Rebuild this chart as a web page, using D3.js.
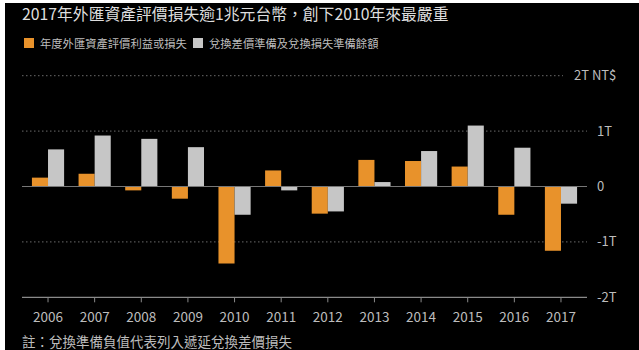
<!DOCTYPE html>
<html>
<head>
<meta charset="utf-8">
<script src="https://cdn.jsdelivr.net/npm/d3@7"></script>
<style>
  html, body { margin: 0; padding: 0; background: #fff; }
  svg { display: block; }
  text { font-family: "Noto Sans CJK TC", "Noto Sans", sans-serif; }
</style>
</head>
<body>
<div id="chart"></div>
<script>
const years = ['2006', '2007', '2008', '2009', '2010', '2011', '2012', '2013', '2014', '2015', '2016', '2017'];
// trillions of NT$
const valuation = [0.16, 0.23, -0.07, -0.22, -1.39, 0.29, -0.49, 0.48, 0.46, 0.36, -0.51, -1.16];
const reserves = [0.67, 0.92, 0.86, 0.71, -0.51, -0.07, -0.45, 0.08, 0.64, 1.10, 0.70, -0.31];
const seriesNames = ['年度外匯資產評價利益或損失', '兌換差價準備及兌換損失準備餘額'];
const yTicks = [2, 1, 0, -1, -2];
const yTickLabels = ['2T NT$', '1T', '0', '-1T', '-2T'];

const width = 639;
const height = 350;
const colors = ['#e8922b', '#c6c6c6'];

const svg = d3.select('#chart').append('svg')
  .attr('width', width)
  .attr('height', height);

// scanned-looking frame: white strip left / top, black panel
svg.append('rect').attr('width', width).attr('height', height).attr('fill', '#fff');
svg.append('rect').attr('x', 5).attr('y', 3).attr('width', width - 5).attr('height', height - 3).attr('fill', '#000');

const xScale = d3.scaleBand().domain(years).range([24.7, 584.3]).paddingInner(0.31).paddingOuter(0.155);
const xSub = d3.scaleBand().domain([0, 1]).range([0, xScale.bandwidth()]);
const yScale = d3.scaleLinear().domain([-2, 2]).range([297.3, 75.7]);

const gridLeft = 22;
const gridRight = 587;

// grid lines
const grid = svg.append('g').attr('class', 'grid');
grid.selectAll('line')
  .data(yTicks.filter(d => d !== 0 && d !== -2))
  .enter()
  .append('line')
  .attr('x1', gridLeft)
  .attr('x2', d => (d === 2 ? 563 : gridRight))
  .attr('y1', d => yScale(d))
  .attr('y2', d => yScale(d))
  .attr('stroke', '#6a6a6a')
  .attr('stroke-width', 1)
  .attr('stroke-dasharray', '1.5 2.5');

// bars
const rows = years.map((y, i) => ({ year: y, values: [valuation[i], reserves[i]] }));
const groups = svg.append('g').attr('class', 'bars')
  .selectAll('g')
  .data(rows)
  .enter()
  .append('g')
  .attr('transform', d => `translate(${xScale(d.year)},0)`);

groups.selectAll('rect')
  .data(d => d.values.map((v, k) => ({ v, k })))
  .enter()
  .append('rect')
  .attr('x', d => xSub(d.k))
  .attr('width', xSub.bandwidth())
  .attr('y', d => yScale(Math.max(0, d.v)))
  .attr('height', d => Math.abs(yScale(d.v) - yScale(0)))
  .attr('fill', d => colors[d.k]);

// zero line
svg.append('line')
  .attr('x1', gridLeft).attr('x2', gridRight)
  .attr('y1', yScale(0)).attr('y2', yScale(0))
  .attr('stroke', '#777').attr('stroke-width', 1.2);

// bottom axis
const xAxis = svg.append('g')
  .attr('transform', `translate(0,${yScale(-2)})`)
  .call(d3.axisBottom(xScale).tickSize(5).tickSizeOuter(0).tickPadding(10));
xAxis.select('.domain').attr('d', `M${gridLeft},0H${gridRight}`).attr('stroke', '#8a8a8a').attr('stroke-width', 1.2);
xAxis.selectAll('.tick line').attr('stroke', '#8a8a8a');
xAxis.selectAll('.tick text')
  .attr('fill', '#bdbdbd')
  .attr('font-size', 13.5)
  .style('font-family', '"Noto Sans CJK TC", "Noto Sans", sans-serif');

// right tick labels
svg.append('g').selectAll('text')
  .data(yTicks)
  .enter()
  .append('text')
  .attr('x', (d, i) => (i === 0 ? 574 : 597))
  .attr('y', d => yScale(d))
  .attr('dy', '0.35em')
  .attr('fill', '#bdbdbd')
  .attr('font-size', 13)
  .text((d, i) => yTickLabels[i]);

// title
svg.append('text')
  .attr('x', 22).attr('y', 20)
  .attr('fill', '#dedede')
  .attr('font-size', 15.8)
  .text('2017年外匯資產評價損失逾1兆元台幣，創下2010年來最嚴重');

// legend
const legend = svg.append('g').attr('class', 'legend');
const legendX = [24, 193];
seriesNames.forEach((name, i) => {
  legend.append('rect')
    .attr('x', legendX[i]).attr('y', 38)
    .attr('width', 10).attr('height', 10)
    .attr('fill', colors[i]);
  legend.append('text')
    .attr('x', legendX[i] + 16).attr('y', 47.5)
    .attr('fill', '#bdbdbd')
    .attr('font-size', 11.3)
    .text(name);
});

// footnote
svg.append('text')
  .attr('x', 22).attr('y', 347)
  .attr('fill', '#bdbdbd')
  .attr('font-size', 13.5)
  .text('註：兌換準備負值代表列入遞延兌換差價損失');
</script>
</body>
</html>
